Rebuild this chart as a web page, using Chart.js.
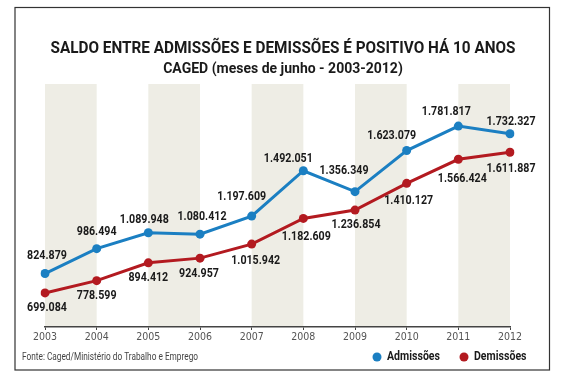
<!DOCTYPE html>
<html>
<head>
<meta charset="utf-8">
<script src="https://cdn.jsdelivr.net/npm/chart.js@4.4.1/dist/chart.umd.min.js"></script>
<style>
  html, body { margin: 0; padding: 0; background: #fff; }
</style>
</head>
<body>
<canvas id="chart" width="565" height="378"></canvas>
<script>
// Data (CAGED, June of each year)
const years = ['2003', '2004', '2005', '2006', '2007', '2008', '2009', '2010', '2011', '2012'];
const admissoes = [824879, 986494, 1089948, 1080412, 1197609, 1492051, 1356349, 1623079, 1781817, 1732327];
const demissoes = [699084, 778599, 894412, 924957, 1015942, 1182609, 1236854, 1410127, 1566424, 1611887];

const BLUE = '#1b7fc2';
const RED = '#b31a20';
const FONT = "Roboto, 'Liberation Sans', sans-serif";
const TICK_FONT = "'DejaVu Sans Condensed', 'Liberation Sans', sans-serif";

// 824879 -> "824.879"
const fmt = (n) => String(n).replace(/\B(?=(\d{3})+(?!\d))/g, '.');

// Label placement relative to each point (style only)
const labelOffsets = {
    0: [[2, -18], [0, -17], [-4, -13], [2, -17], [-10, -19], [-15, -12], [-11, -21], [-15, -15], [-12, -14], [1, -12]],
    1: [[2, 15], [0, 15], [0, 15], [-1, 16], [4, 17], [3, 18], [1, 15], [2, 17], [4, 19], [1, 16]]
};

// Draw text squeezed horizontally (the original uses a condensed face)
const squeezeText = (ctx, text, x, y, sx) => {
    ctx.save();
    ctx.translate(x, y);
    ctx.scale(sx, 1);
    ctx.fillText(text, 0, 0);
    ctx.restore();
};
// horizontal factor so that `text` ends up `width` px wide
const squeezeFor = (ctx, text, width) => Math.min(1, width / ctx.measureText(text).width);

// Background stripes, frame, titles, legend and source
const decorPlugin = {
    id: 'decor',
    beforeDraw(chart) {
        const ctx = chart.ctx;
        ctx.save();
        ctx.fillStyle = '#fff';
        ctx.fillRect(0, 0, chart.width, chart.height);
        ctx.strokeStyle = '#333';
        ctx.lineWidth = 1.2;
        ctx.strokeRect(15, 7.5, 534.5, 362.5);
        ctx.restore();
    },
    beforeDatasetsDraw(chart) {
        const ctx = chart.ctx;
        const x = chart.scales.x;
        const area = chart.chartArea;
        ctx.save();
        ctx.fillStyle = '#eeede5';
        for (let i = 0; i + 1 < years.length; i += 2) {
            const x0 = x.getPixelForValue(i);
            const x1 = x.getPixelForValue(i + 1);
            ctx.fillRect(x0, area.top, x1 - x0, area.bottom - area.top - 1);
        }
        ctx.restore();
    },
    afterDraw(chart) {
        const ctx = chart.ctx;
        ctx.save();
        ctx.fillStyle = '#1a1a1a';
        ctx.textAlign = 'center';
        ctx.textBaseline = 'middle';

        const title = 'SALDO ENTRE ADMISSÕES E DEMISSÕES É POSITIVO HÁ 10 ANOS';
        ctx.font = "bold 17px " + FONT;
        squeezeText(ctx, title, 283, 49, squeezeFor(ctx, title, 465));

        const sub = 'CAGED (meses de junho - 2003-2012)';
        ctx.font = "bold 14px " + FONT;
        squeezeText(ctx, sub, 283, 69, squeezeFor(ctx, sub, 254));

        // Source note
        const src = 'Fonte: Caged/Ministério do Trabalho e Emprego';
        ctx.textAlign = 'left';
        ctx.fillStyle = '#444';
        ctx.font = "11px " + FONT;
        squeezeText(ctx, src, 22, 357, squeezeFor(ctx, src, 176));

        // Legend
        const items = [['Admissões', BLUE, 377], ['Demissões', RED, 464]];
        ctx.font = "bold 13px " + FONT;
        const sx = squeezeFor(ctx, 'Admissões', 53);
        for (const [text, color, cx] of items) {
            ctx.fillStyle = color;
            ctx.beginPath();
            ctx.arc(cx, 357, 4.5, 0, Math.PI * 2);
            ctx.fill();
            ctx.fillStyle = '#1a1a1a';
            squeezeText(ctx, text, cx + 10, 357, sx);
        }
        ctx.restore();
    }
};

// Value labels next to each point
const valueLabelsPlugin = {
    id: 'valueLabels',
    afterDatasetsDraw(chart) {
        const ctx = chart.ctx;
        ctx.save();
        ctx.font = "bold 13px " + FONT;
        ctx.fillStyle = '#1a1a1a';
        ctx.textAlign = 'center';
        ctx.textBaseline = 'middle';
        const sx = squeezeFor(ctx, '1.089.948', 49);
        chart.data.datasets.forEach((ds, di) => {
            const meta = chart.getDatasetMeta(di);
            meta.data.forEach((pt, i) => {
                const off = labelOffsets[di][i];
                squeezeText(ctx, fmt(ds.data[i]), pt.x + off[0], pt.y + off[1], sx);
            });
        });
        ctx.restore();
    }
};

const ctx = document.getElementById('chart').getContext('2d');
new Chart(ctx, {
    type: 'line',
    data: {
        labels: years,
        datasets: [{
            label: 'Admissões',
            data: admissoes,
            borderColor: BLUE,
            backgroundColor: BLUE,
            borderWidth: 3,
            pointRadius: 4.5,
            pointBorderWidth: 0,
            tension: 0
        }, {
            label: 'Demissões',
            data: demissoes,
            borderColor: RED,
            backgroundColor: RED,
            borderWidth: 3,
            pointRadius: 4.5,
            pointBorderWidth: 0,
            tension: 0
        }]
    },
    options: {
        responsive: false,
        animation: false,
        devicePixelRatio: 1,
        layout: {
            padding: { left: 45, right: 55, top: 84, bottom: 0 }
        },
        plugins: {
            legend: { display: false },
            title: { display: false },
            tooltip: { enabled: false }
        },
        scales: {
            x: {
                afterFit: (scale) => { scale.height = 51; },
                grid: {
                    drawOnChartArea: false,
                    drawTicks: true,
                    tickLength: 3,
                    color: '#444'
                },
                border: { display: true, color: '#444', width: 1.5 },
                ticks: {
                    color: '#555',
                    padding: 1,
                    font: { family: TICK_FONT, size: 10.5 }
                }
            },
            y: {
                display: false,
                min: 478000,
                max: 2055000
            }
        }
    },
    plugins: [decorPlugin, valueLabelsPlugin]
});
</script>
</body>
</html>
